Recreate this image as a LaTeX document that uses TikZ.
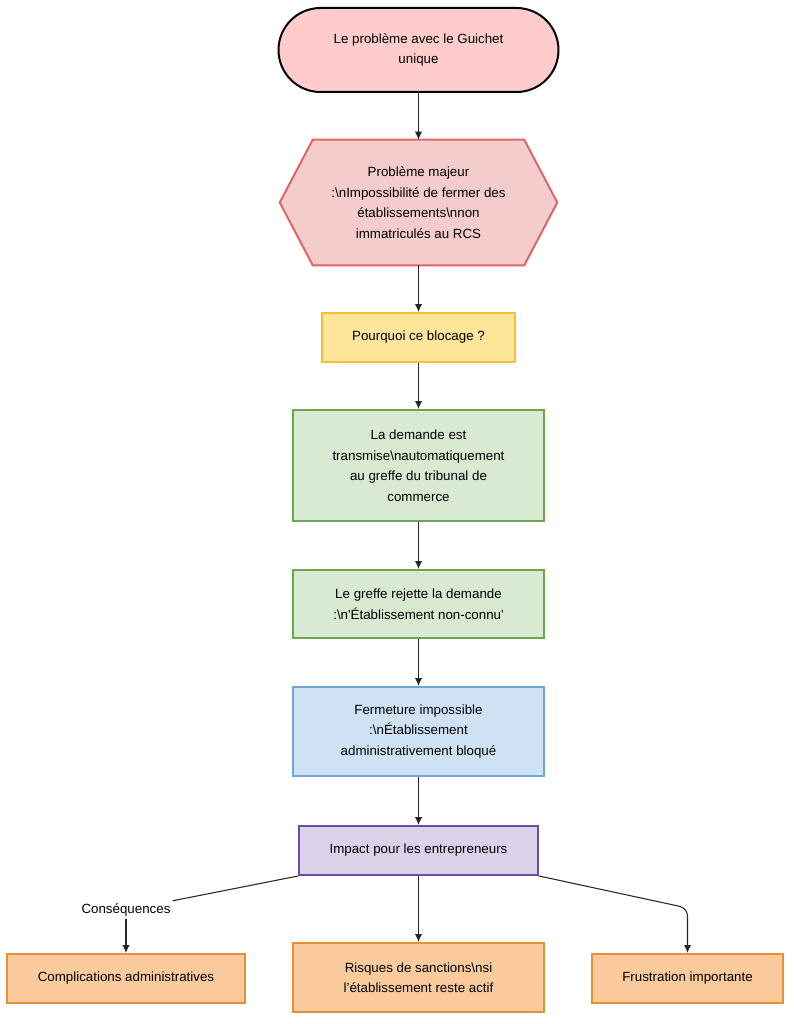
\documentclass[tikz,border=0pt]{standalone}
\usepackage{fontspec}
\newfontfamily\mainf{Liberation Sans}
\usetikzlibrary{arrows.meta}
\definecolor{stadfill}{HTML}{FFCCCC}
\definecolor{hexfill}{HTML}{F4CCCC}
\definecolor{hexdraw}{HTML}{E06666}
\definecolor{yelfill}{HTML}{FFE599}
\definecolor{yeldraw}{HTML}{F1C232}
\definecolor{grnfill}{HTML}{D9EAD3}
\definecolor{grndraw}{HTML}{6AA84F}
\definecolor{blufill}{HTML}{CFE2F3}
\definecolor{bludraw}{HTML}{6FA8DC}
\definecolor{purfill}{HTML}{D9D2E9}
\definecolor{purdraw}{HTML}{674EA7}
\definecolor{orafill}{HTML}{F9CB9C}
\definecolor{oradraw}{HTML}{E69138}
\newcommand\pxu{0.75pt}
\tikzset{
  txt/.style={font=\mainf\fontsize{10pt}{15.4pt}\selectfont, align=center, text=black},
  boxnode/.style={txt, rectangle, line width=1.5pt, inner sep=0pt},
  conn/.style={line width=0.8pt, draw=black!85, -{Latex[length=6pt,width=5.5pt]}},
  plainconn/.style={line width=0.8pt, draw=black!85},
}
\begin{document}
\begin{tikzpicture}[x=0.75pt, y=-0.75pt]
\useasboundingbox (0,0) rectangle (793,1024);
% start stadium
\node[boxnode, draw=black, fill=stadfill, rounded corners=31.5pt,
  minimum width=280*\pxu, minimum height=84*\pxu] (n1) at (418.5,50)
  {Le problème avec le Guichet\\unique};
% hexagon
\node[txt, minimum width=277*\pxu, minimum height=125*\pxu, inner sep=0pt] (n2) at (418.5,202.5) {};
\filldraw[fill=hexfill, draw=hexdraw, line width=1.5pt, line join=miter]
  (n2.west) -- ([xshift=33*\pxu]n2.north west) -- ([xshift=-33*\pxu]n2.north east)
  -- (n2.east) -- ([xshift=-33*\pxu]n2.south east) -- ([xshift=33*\pxu]n2.south west) -- cycle;
\node[txt] at (n2) {Problème majeur\\:\textbackslash nImpossibilité de fermer des\\établissements\textbackslash nnon\\immatriculés au RCS};
% yellow
\node[boxnode, draw=yeldraw, fill=yelfill, minimum width=193*\pxu, minimum height=49*\pxu]
  (n3) at (418.5,337.5) {Pourquoi ce blocage ?};
% green 1
\node[boxnode, draw=grndraw, fill=grnfill, minimum width=251*\pxu, minimum height=111*\pxu]
  (n4) at (418.5,465.5) {La demande est\\transmise\textbackslash nautomatiquement\\au greffe du tribunal de\\commerce};
% green 2
\node[boxnode, draw=grndraw, fill=grnfill, minimum width=251*\pxu, minimum height=68*\pxu]
  (n5) at (418.5,604) {Le greffe rejette la demande\\:\textbackslash n'Établissement non-connu'};
% blue
\node[boxnode, draw=bludraw, fill=blufill, minimum width=251*\pxu, minimum height=89*\pxu]
  (n6) at (418.5,731.5) {Fermeture impossible\\:\textbackslash nÉtablissement\\administrativement bloqué};
% purple
\node[boxnode, draw=purdraw, fill=purfill, minimum width=239*\pxu, minimum height=49*\pxu]
  (n7) at (418.5,850.5) {Impact pour les entrepreneurs};
% oranges
\node[boxnode, draw=oradraw, fill=orafill, minimum width=238*\pxu, minimum height=49*\pxu]
  (o1) at (126,978.5) {Complications administratives};
\node[boxnode, draw=oradraw, fill=orafill, minimum width=251*\pxu, minimum height=69*\pxu]
  (o2) at (418.5,977.5) {Risques de sanctions\textbackslash nsi\\l’établissement reste actif};
\node[boxnode, draw=oradraw, fill=orafill, minimum width=191*\pxu, minimum height=49*\pxu]
  (o3) at (687.5,978.5) {Frustration importante};
% label
\node[txt, inner sep=2pt] (cons) at (126,910) {Conséquences};
\coordinate (rc) at (687.5,908);
% connectors
\draw[conn] (n1) -- (n2);
\draw[conn] (n2.south) -- (n3);
\draw[conn] (n3) -- (n4);
\draw[conn] (n4) -- (n5);
\draw[conn] (n5) -- (n6);
\draw[conn] (n6) -- (n7);
\draw[plainconn] (n7.south west) -- (cons);
\draw[conn] (cons) -- (o1);
\draw[conn] (n7) -- (o2);
\draw[conn, rounded corners=6pt] (n7.south east) -- (rc) -- (o3);
\end{tikzpicture}
\end{document}
